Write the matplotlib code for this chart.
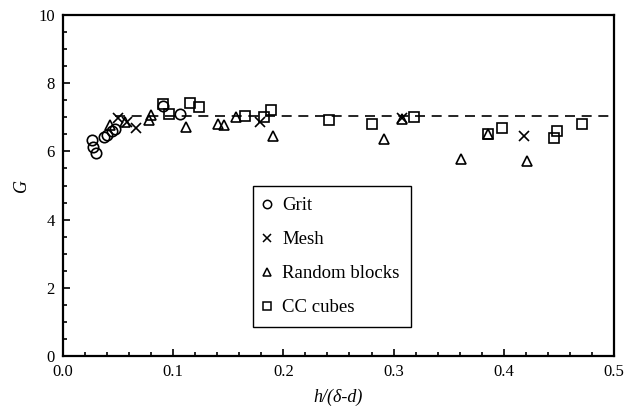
import matplotlib
matplotlib.use("Agg")
import matplotlib.pyplot as plt
from matplotlib.ticker import MultipleLocator, FormatStrFormatter

plt.rcParams['font.family'] = ['Liberation Serif', 'DejaVu Serif']

# Grit
grit_x = [0.026, 0.027, 0.030, 0.037, 0.040, 0.044, 0.047, 0.091, 0.106]
grit_y = [6.33, 6.12, 5.96, 6.43, 6.47, 6.60, 6.65, 7.33, 7.10]

# Mesh
mesh_x = [0.050, 0.058, 0.066, 0.179, 0.308, 0.418]
mesh_y = [6.97, 6.87, 6.68, 6.85, 6.97, 6.45]

# Random blocks
rb_x = [0.043, 0.056, 0.078, 0.080, 0.112, 0.141, 0.146, 0.157, 0.191,
        0.291, 0.308, 0.361, 0.386, 0.421]
rb_y = [6.77, 6.86, 6.92, 7.07, 6.72, 6.80, 6.77, 7.02, 6.46,
        6.35, 6.94, 5.79, 6.52, 5.73]

# CC cubes
cc_x = [0.091, 0.0965, 0.115, 0.123, 0.165, 0.182, 0.189, 0.241, 0.280,
        0.319, 0.386, 0.398, 0.446, 0.448, 0.471]
cc_y = [7.40, 7.10, 7.42, 7.31, 7.04, 7.00, 7.21, 6.93, 6.80,
        7.00, 6.52, 6.70, 6.38, 6.61, 6.80]

# Constant G level
g_const = 7.04
g_line_x = [0.047, 0.5]

fig = plt.figure(figsize=(6.29, 4.12), dpi=100)
ax = fig.add_axes([0.1002, 0.1359, 0.8758, 0.8277])

ax.plot(g_line_x, [g_const, g_const], color='black', lw=1.2,
        dashes=(6, 4), zorder=1)

mk = dict(linestyle='none', markerfacecolor='none', markeredgecolor='black',
          markersize=7.5, markeredgewidth=1.2, zorder=3)
ax.plot(grit_x, grit_y, marker='o', label='Grit', **mk)
ax.plot(mesh_x, mesh_y, marker='x', label='Mesh', **mk)
ax.plot(rb_x, rb_y, marker='^', label='Random blocks', **mk)
ax.plot(cc_x, cc_y, marker='s', label='CC cubes', **mk)

ax.set_xlim(0, 0.5)
ax.set_ylim(0, 10)
ax.xaxis.set_major_locator(MultipleLocator(0.1))
ax.xaxis.set_minor_locator(MultipleLocator(0.02))
ax.yaxis.set_major_locator(MultipleLocator(2))
ax.yaxis.set_minor_locator(MultipleLocator(0.5))
ax.xaxis.set_major_formatter(FormatStrFormatter('%.1f'))
ax.yaxis.set_major_formatter(FormatStrFormatter('%d'))

ax.tick_params(which='both', direction='in', top=False, right=False,
               width=1.2, labelsize=12, colors='black')
ax.tick_params(which='major', length=5)
ax.tick_params(which='minor', length=3)
ax.tick_params(axis='x', which='major', pad=6)
ax.tick_params(axis='y', which='major', pad=6)
for s in ax.spines.values():
    s.set_linewidth(1.6)

ax.set_xlabel('h/(δ-d)', fontsize=13, style='italic', labelpad=6)
ax.set_ylabel('G', fontsize=13, style='italic', labelpad=6)

leg = ax.legend(loc='upper left', bbox_to_anchor=(0.345, 0.499),
                frameon=True, fancybox=False, edgecolor='black',
                framealpha=1, fontsize=13.5, labelspacing=0.9,
                handlelength=0.25, handletextpad=0.7, borderpad=0.6,
                borderaxespad=0)
leg.get_frame().set_linewidth(1.0)
for h in leg.legend_handles:
    h.set_markersize(6)
    h.set_markeredgewidth(1.1)

fig.savefig('out.png', dpi=100)
